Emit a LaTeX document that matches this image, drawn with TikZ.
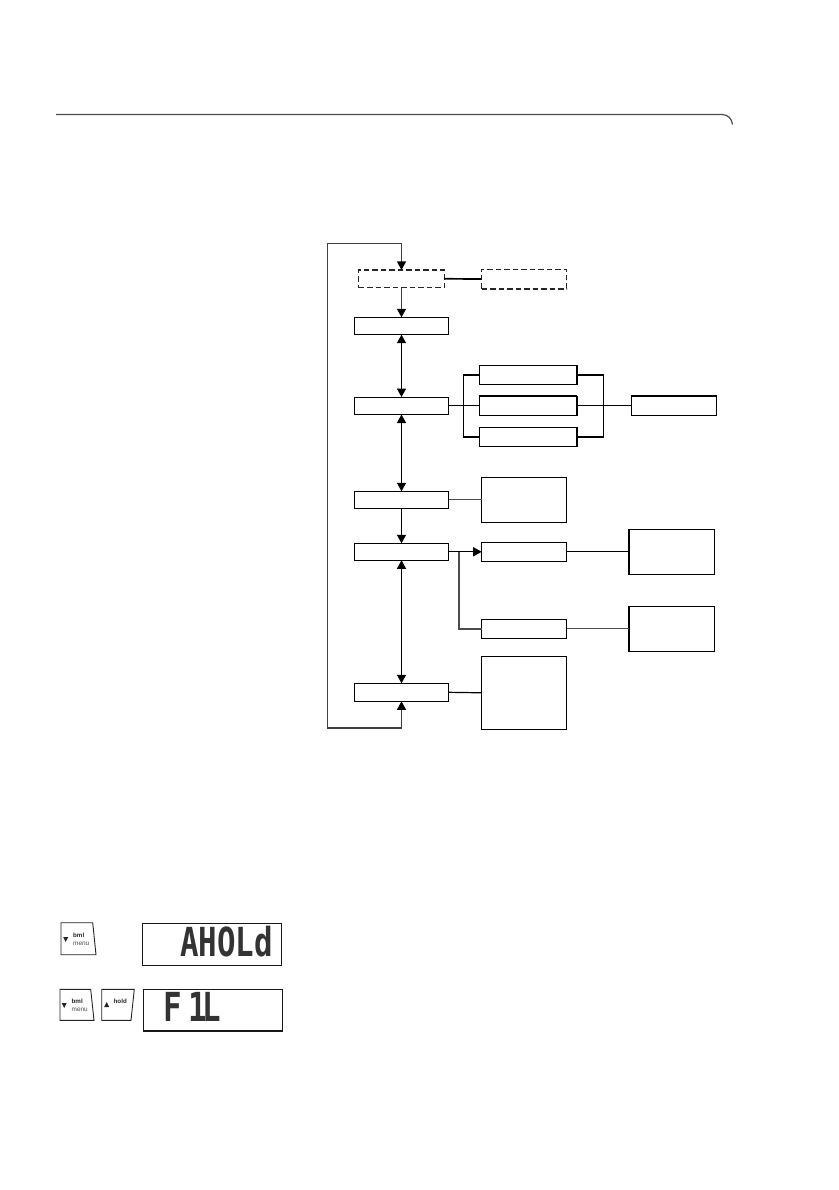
\documentclass[tikz,border=0pt]{standalone}
\usepackage{fontspec}
\setmainfont{Liberation Sans}
\newfontfamily\lcdfont{DejaVu Sans Mono}
\usetikzlibrary{arrows.meta}
\tikzset{
  x=1pt,y=-1pt,
  tipmark/.tip={Triangle[length=8.5pt,width=9pt,color=black]},
  boxnode/.style={draw=black,line width=1.2pt,fill=white,rectangle,inner sep=0pt,outer sep=0pt},
  dashbox/.style={boxnode,line width=1.3pt,dash pattern=on 5.5pt off 3pt,draw=black!85},
  wire/.style={draw=black,line width=1.2pt},
  wiregray/.style={draw=black!70,line width=1.3pt},
  heavywire/.style={draw=black,line width=1.7pt},
  heavygray/.style={draw=black!70,line width=1.8pt},
  biarrow/.style={wire,tipmark-tipmark},
  onearrow/.style={wire,-tipmark},
  edgeheavy/.style={draw=black,line width=1.8pt},
  lcdframe/.style={boxnode,line width=1.5pt,draw=black!90},
  keyshape/.style={draw=black!85,line width=0.9pt,fill=white},
  keytip/.style={fill=black!85,draw=none},
  keybold/.style={inner sep=0pt,font=\fontsize{6.2}{7}\selectfont\bfseries,text=black!85},
  keylight/.style={inner sep=0pt,font=\fontsize{6.4}{7}\selectfont,text=black!70},
  lcdtext/.style={inner sep=0pt,text=black!80,font=\lcdfont\bfseries\fontsize{40}{40}\selectfont,transform shape},
  rulepath/.style={draw=black!70,line width=1.2pt},
}
\begin{document}
\begin{tikzpicture}
\useasboundingbox (0,0) rectangle (838,1190);
\fill[white] (0,0) rectangle (838,1190);

% header rule
\coordinate (ruleA) at (56,114.5);
\coordinate (ruleB) at (722,114.5);
\coordinate (ruleC) at (732.5,124.5);
\draw[rulepath] (ruleA) -- (ruleB) .. controls (728,114.5) and (732,119) .. (ruleC);

% left column
\node[dashbox,minimum width=85.7pt,minimum height=17.7pt] (d1) at (401.5,278.8) {};
\node[boxnode,minimum width=94.4pt,minimum height=17.4pt] (b1) at (401.5,326) {};
\node[boxnode,minimum width=94.4pt,minimum height=17.4pt] (b2) at (401.5,405.8) {};
\node[boxnode,minimum width=94.4pt,minimum height=17pt] (b3) at (401.5,499.8) {};
\node[boxnode,minimum width=94.4pt,minimum height=17pt] (b4) at (401.5,551.8) {};
\node[boxnode,minimum width=94.4pt,minimum height=18pt] (b5) at (401.5,692.3) {};

% second column
\node[dashbox,minimum width=85pt,minimum height=19.7pt] (d2) at (524.2,279) {};
\node[boxnode,minimum width=97.4pt,minimum height=19.4pt] (s1) at (528,375) {};
\node[boxnode,minimum width=97.4pt,minimum height=19.6pt] (s2) at (528,405.8) {};
\node[boxnode,minimum width=97.4pt,minimum height=19.4pt] (s3) at (528,437) {};
\node[boxnode,minimum width=85pt,minimum height=45pt] (c1) at (524.2,499.8) {};
\node[boxnode,minimum width=85pt,minimum height=19pt] (c2) at (524.2,551.8) {};
\node[boxnode,minimum width=85pt,minimum height=19pt] (c3) at (524.2,628.8) {};
\node[boxnode,minimum width=85pt,minimum height=73pt] (c4) at (524.2,692.8) {};

% third column
\node[boxnode,minimum width=85pt,minimum height=19.6pt] (r) at (674.2,405.8) {};
\node[boxnode,minimum width=85.4pt,minimum height=45.4pt] (e1) at (672,552) {};
\node[boxnode,minimum width=85.4pt,minimum height=45.4pt] (e2) at (672,629) {};

% heavier edges
\draw[edgeheavy] (s1.north east) -- (s1.south east);
\draw[edgeheavy] (s2.north east) -- (s2.south east);
\draw[edgeheavy] (s3.north east) -- (s3.south east);
\draw[edgeheavy] (s2.north west) -- (s2.north east);
\draw[edgeheavy] (r.north west) -- (r.north east);
\draw[edgeheavy] (e1.north west) -- (e1.south west);
\draw[edgeheavy] (e2.north west) -- (e2.south west);

% main loop
\coordinate (loopT) at (327.3,243.3);
\coordinate (loopB) at (327.3,728);
\draw[biarrow,draw=black!75] (d1.north) |- (loopT) -- (loopB) -| (b5.south);

% vertical connectors
\draw[onearrow,draw=black!75] (d1.south) -- (b1.north);
\draw[biarrow] (b1.south) -- (b2.north);
\draw[biarrow] (b2.south) -- (b3.north);
\draw[onearrow] (b3.south) -- (b4.north);
\draw[biarrow] (b4.south) -- (b5.north);

% horizontal connectors
\draw[heavywire] (d1.east) -- (d2.west);
\draw[wire] (b2.east) -- (s2.west);
\coordinate (busL) at (463.7,405.8);
\coordinate (busR) at (603.7,405.8);
\draw[wire] (s1.west) -| (busL) |- (s3.west);
\draw[wire] (s1.east) -| (busR) |- (s3.east);
\draw[wire] (s2.east) -- (r.west);
\draw[wiregray] (b3.east) -- (c1.west);
\draw[onearrow] (b4.east) -- (c2.west);
\coordinate (branch) at (459,551.8);
\draw[heavygray] (c3.west) -| (branch);
\draw[wire] (c2.east) -- (c2.east -| e1.west);
\draw[wiregray] (c3.east) -- (c3.east -| e2.west);
\draw[wire] (b5.east) -- (c4.west);

% keys
\draw[keyshape] (61,922.7) -- (92.7,922.7) -- (96,954.7) -- (61,954.7) -- cycle;
\fill[keytip] (63.2,937) -- (68.2,937) -- (65.7,942) -- cycle;
\node[keybold,anchor=west] (k1a) at (73,935.7) {bml};
\node[keylight,anchor=west] (k1b) at (73,944) {menu};

\draw[keyshape] (60,989.3) -- (90.7,989.3) -- (94,1020.3) -- (60,1020.3) -- cycle;
\fill[keytip] (61.7,1003) -- (66.7,1003) -- (64.2,1008) -- cycle;
\node[keybold,anchor=west] (k2a) at (71.5,1001) {bml};
\node[keylight,anchor=west] (k2b) at (71.5,1009.5) {menu};

\draw[keyshape] (101.7,989.3) -- (134.3,989.3) -- (131,1020.3) -- (101.7,1020.3) -- cycle;
\fill[keytip] (104.2,1007) -- (109.2,1007) -- (106.7,1002) -- cycle;
\node[keybold,anchor=west] (k3a) at (113.5,1001) {hold};

% LCD panels
\node[lcdframe,minimum width=138.6pt,minimum height=41.6pt] (lcdA) at (212,944.5) {};
\node[lcdframe,minimum width=139pt,minimum height=41.7pt] (lcdB) at (212.8,1010.2) {};
\node[lcdtext,xscale=0.77,anchor=base west] (lcdAt) at (180,956) {AHOLd};
\node[lcdtext,xscale=0.77,anchor=base west] (lcdBt) at (163,1021.5) {F\hspace{8.5pt}1\hspace{-5pt}L};
\end{tikzpicture}
\end{document}
